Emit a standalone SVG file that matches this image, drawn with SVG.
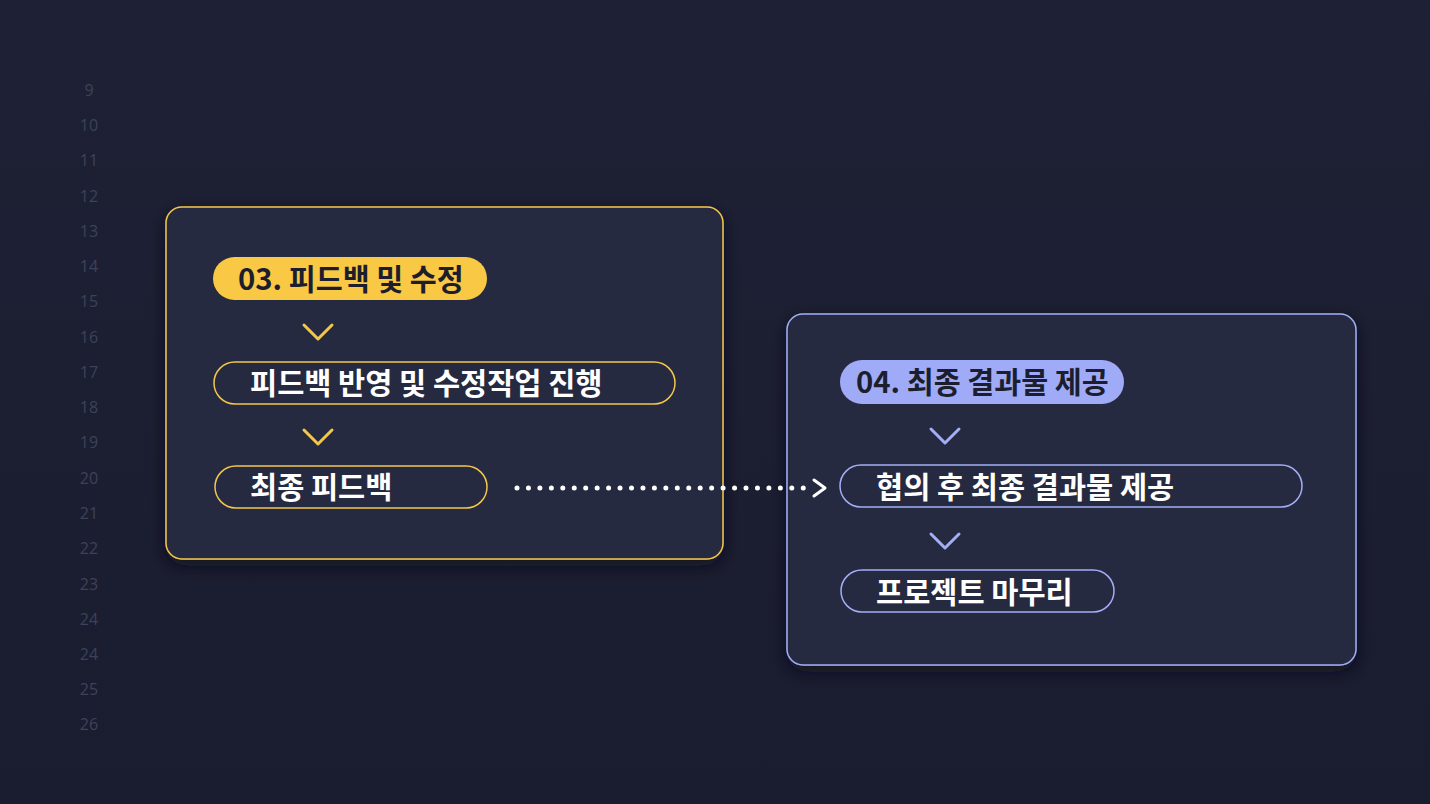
<svg xmlns="http://www.w3.org/2000/svg" width="1430" height="804" viewBox="0 0 1430 804">
<defs>
<filter id="sh" x="-10%" y="-10%" width="120%" height="130%">
<feDropShadow dx="0" dy="6" stdDeviation="8" flood-color="#0d0f1c" flood-opacity="0.7"/>
</filter>
<linearGradient id="bg" x1="0" y1="0" x2="0" y2="1">
<stop offset="0" stop-color="#1e2135"/>
<stop offset="1" stop-color="#1a1c2f"/>
</linearGradient>
</defs>
<style>
.ln{font-family:"Open Sans","Noto Sans",sans-serif;font-size:16px;fill:#3e4259;text-anchor:middle}
.card{fill:#262941;stroke-width:1.5}
.y{stroke:#f3c74a}
.b{stroke:#a3aef5}
.pill{fill:none;stroke-width:1.5}
.t{font-family:"Noto Sans CJK KR","Noto Sans",sans-serif;font-weight:700;font-size:29.5px;fill:#ffffff}
.bt{font-family:"Noto Sans CJK KR","Noto Sans",sans-serif;font-weight:700;font-size:29.3px;fill:#1c1e2e}
.chev{fill:none;stroke-width:3;stroke-linecap:round;stroke-linejoin:round}
</style>
<rect width="1430" height="804" fill="url(#bg)"/>
<g id="line-numbers">
<text class="ln" x="89" y="96">9</text>
<text class="ln" x="89" y="131">10</text>
<text class="ln" x="89" y="166">11</text>
<text class="ln" x="89" y="202">12</text>
<text class="ln" x="89" y="237">13</text>
<text class="ln" x="89" y="272">14</text>
<text class="ln" x="89" y="307">15</text>
<text class="ln" x="89" y="343">16</text>
<text class="ln" x="89" y="378">17</text>
<text class="ln" x="89" y="413">18</text>
<text class="ln" x="89" y="448">19</text>
<text class="ln" x="89" y="484">20</text>
<text class="ln" x="89" y="519">21</text>
<text class="ln" x="89" y="554">22</text>
<text class="ln" x="89" y="590">23</text>
<text class="ln" x="89" y="625">24</text>
<text class="ln" x="89" y="660">24</text>
<text class="ln" x="89" y="695">25</text>
<text class="ln" x="89" y="730">26</text>
</g>
<g id="card-03">
<rect class="card y" x="166" y="207" width="557" height="352" rx="16" filter="url(#sh)"/>
<g id="badge-03">
<rect x="213" y="257" width="274" height="43" rx="21.5" fill="#f9c844"/>
<text class="bt" x="238" y="290">03. 피드백 및 수정</text>
</g>
<path class="chev y" d="M304 325 L318 339 L332 325"/>
<g id="step-feedback-apply">
<rect class="pill y" x="214" y="362" width="461" height="42" rx="21"/>
<text class="t" x="250" y="394">피드백 반영 및 수정작업 진행</text>
</g>
<path class="chev y" d="M304 430 L318 444 L332 430"/>
<g id="step-final-feedback">
<rect class="pill y" x="215" y="466" width="272" height="42" rx="21"/>
<text class="t" x="250" y="498">최종 피드백</text>
</g>
</g>
<g id="card-04">
<rect class="card b" x="787" y="314" width="569" height="351" rx="16" filter="url(#sh)"/>
<g id="badge-04">
<rect x="840" y="360" width="284" height="44" rx="22" fill="#a0abf8"/>
<text class="bt" x="856" y="393">04. 최종 결과물 제공</text>
</g>
<path class="chev b" d="M931 429 L945 443 L959 429"/>
<g id="step-deliver">
<rect class="pill b" x="840" y="465" width="462" height="42" rx="21"/>
<text class="t" x="876" y="498">협의 후 최종 결과물 제공</text>
</g>
<path class="chev b" d="M931 534 L945 548 L959 534"/>
<g id="step-wrapup">
<rect class="pill b" x="841" y="570" width="273" height="42" rx="21"/>
<text class="t" x="876" y="603">프로젝트 마무리</text>
</g>
</g>
<g id="connectors">
<line x1="517" y1="488" x2="810" y2="488" stroke="#ffffff" stroke-width="5" stroke-linecap="round" stroke-dasharray="0 11.45"/>
<path d="M814 480 L825 488 L814 496" fill="none" stroke="#ffffff" stroke-width="3" stroke-linecap="round" stroke-linejoin="round"/>
</g>
</svg>
